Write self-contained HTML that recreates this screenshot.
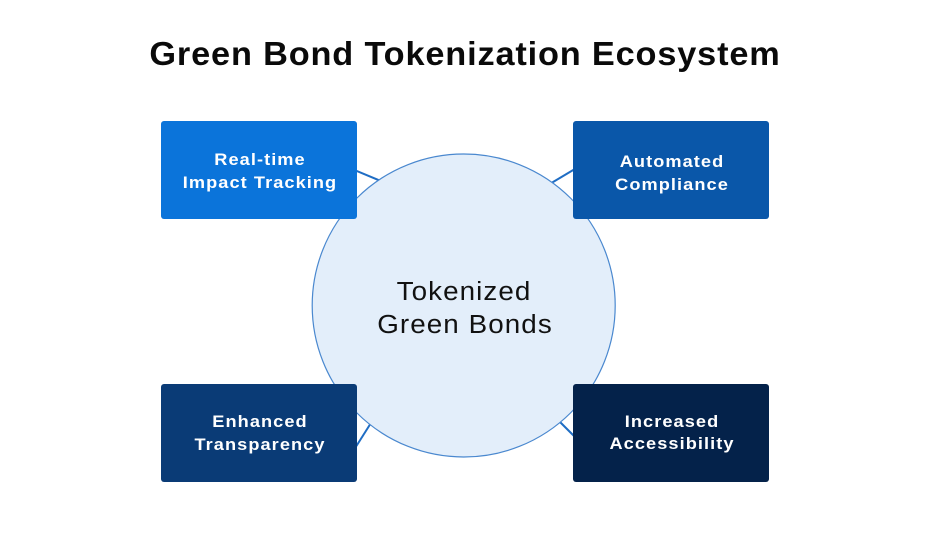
<!DOCTYPE html>
<html>
<head>
<meta charset="utf-8">
<style>
  html,body{margin:0;padding:0;background:#fff;}
  svg{display:block;}
</style>
</head>
<body>
<svg width="931" height="551" viewBox="0 0 931 551" xmlns="http://www.w3.org/2000/svg">
  <rect x="0" y="0" width="931" height="551" fill="#ffffff"/>
  <g transform="translate(465,0) scale(1.04,1)">
    <text x="0" y="65" text-anchor="middle" font-family="'Liberation Sans', sans-serif" font-weight="bold" font-size="33" letter-spacing="0.8" fill="#0a0a0a">Green Bond Tokenization Ecosystem</text>
  </g>

  <!-- connectors -->
  <g stroke="#1f6dc4" stroke-width="2" fill="none">
    <line x1="340" y1="164" x2="388" y2="184"/>
    <line x1="590" y1="160" x2="543" y2="188"/>
    <line x1="345" y1="464" x2="376" y2="415"/>
    <line x1="585" y1="447" x2="550" y2="412"/>
  </g>

  <!-- circle -->
  <circle cx="463.7" cy="305.5" r="151.5" fill="#e3eefa" stroke="#4a88cf" stroke-width="1.2"/>
  <g font-family="'Liberation Sans', sans-serif" font-size="26" letter-spacing="1" fill="#111111" text-anchor="middle">
    <g transform="translate(464,0) scale(1.07,1)"><text x="0" y="300">Tokenized</text></g>
    <g transform="translate(465,0) scale(1.07,1)"><text x="0" y="333">Green Bonds</text></g>
  </g>

  <!-- boxes -->
  <rect x="161" y="121" width="196" height="98" rx="3" fill="#0b74da"/>
  <rect x="573" y="121" width="196" height="98" rx="3" fill="#0a57a9"/>
  <rect x="161" y="384" width="196" height="98" rx="3" fill="#0a3b76"/>
  <rect x="573" y="384" width="196" height="98" rx="3" fill="#04224a"/>

  <g font-family="'Liberation Sans', sans-serif" font-weight="bold" font-size="17" letter-spacing="1" fill="#ffffff" text-anchor="middle">
    <g transform="translate(260,0) scale(1.07,1)">
      <text x="0" y="165">Real-time</text>
      <text x="0" y="188">Impact Tracking</text>
    </g>
    <g transform="translate(672,0) scale(1.07,1)">
      <text x="0" y="167">Automated</text>
      <text x="0" y="190">Compliance</text>
    </g>
    <g transform="translate(260,0) scale(1.07,1)">
      <text x="0" y="427">Enhanced</text>
      <text x="0" y="450">Transparency</text>
    </g>
    <g transform="translate(672,0) scale(1.07,1)">
      <text x="0" y="427">Increased</text>
      <text x="0" y="449">Accessibility</text>
    </g>
  </g>
</svg>
</body>
</html>
